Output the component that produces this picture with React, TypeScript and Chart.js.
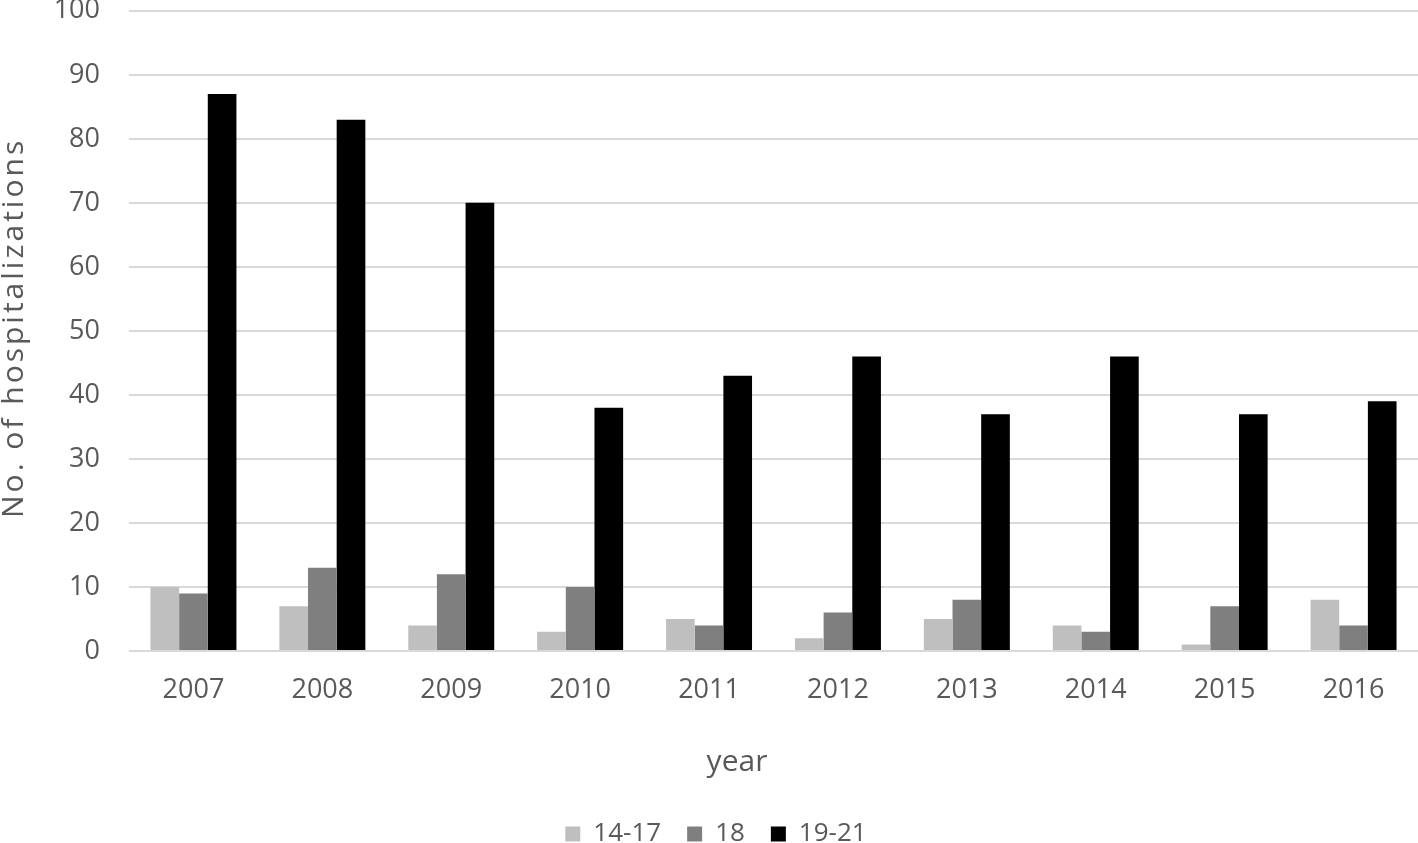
import React, { useEffect, useRef } from "react";
import { Chart, registerables } from "chart.js";

Chart.register(...registerables);

const categories = ["2007", "2008", "2009", "2010", "2011", "2012", "2013", "2014", "2015", "2016"];
const seriesNames = ["14-17", "18", "19-21"];
const age14to17 = [10, 7, 4, 3, 5, 2, 5, 4, 1, 8];
const age18 = [9, 13, 12, 10, 4, 6, 8, 3, 7, 4];
const age19to21 = [87, 83, 70, 38, 43, 46, 37, 46, 37, 39];
const seriesColors = ["#bfbfbf", "#7f7f7f", "#000000"];
const yTicks = { min: 0, max: 100, step: 10 };
const yTitle = "No. of hospitalizations";
const xTitle = "year";

const FONT = "'Open Sans', 'Liberation Sans', sans-serif";
const TEXT = "#595959";

const axisTitlesPlugin = {
  id: "axisTitles",
  afterDraw(chart: any) {
    const { ctx, chartArea } = chart;
    ctx.save();
    ctx.fillStyle = TEXT;
    ctx.textAlign = "center";
    ctx.textBaseline = "middle";
    // x title
    ctx.font = `30px ${FONT}`;
    ctx.fillText(xTitle, 737, chartArea.bottom + 111);
    // y title
    (ctx as any).letterSpacing = "3px";
    ctx.translate(14, (chartArea.top + chartArea.bottom) / 2 - 3);
    ctx.rotate(-Math.PI / 2);
    ctx.fillText(yTitle, 0, 0);
    ctx.restore();
  },
};

export default function App() {
  const ref = useRef<HTMLCanvasElement | null>(null);
  useEffect(() => {
    if (!ref.current) return;
    const values = [age14to17, age18, age19to21];
    const chart = new Chart(ref.current, {
      type: "bar",
      data: {
        labels: categories,
        datasets: seriesNames.map((name, i) => ({
          label: name,
          data: values[i],
          backgroundColor: seriesColors[i],
          borderWidth: 0,
          categoryPercentage: 0.667,
          barPercentage: 1,
        })),
      },
      plugins: [axisTitlesPlugin],
      options: {
        animation: false,
        responsive: true,
        maintainAspectRatio: false,
        layout: { padding: { top: 0, right: 0, left: 14, bottom: -14 } },
        plugins: {
          tooltip: { enabled: false },
          legend: {
            position: "bottom",
            labels: {
              boxWidth: 15,
              boxHeight: 15,
              padding: 26,
              color: TEXT,
              font: { family: FONT, size: 26 },
            },
          },
        },
        scales: {
          x: {
            afterFit(scale: any) {
              scale.height = 144;
            },
            grid: { display: false, drawTicks: false },
            border: { display: false },
            ticks: { color: TEXT, font: { family: FONT, size: 27 }, padding: 23 },
          },
          y: {
            min: yTicks.min,
            max: yTicks.max,
            afterFit(scale: any) {
              scale.width = 115;
            },
            grid: {
              color: "#d9d9d9",
              lineWidth: 2,
              drawTicks: true,
              tickLength: 29,
              tickColor: "rgba(0,0,0,0)",
            },
            border: { display: false },
            ticks: {
              stepSize: yTicks.step,
              color: TEXT,
              font: { family: FONT, size: 27, lineHeight: 0.8 },
              padding: 0,
            },
          },
        },
      },
    });
    return () => chart.destroy();
  }, []);
  return (
    <div style={{ position: "fixed", left: 0, top: 0, width: 1418, height: 843, background: "#fff" }}>
      <canvas ref={ref} />
    </div>
  );
}
